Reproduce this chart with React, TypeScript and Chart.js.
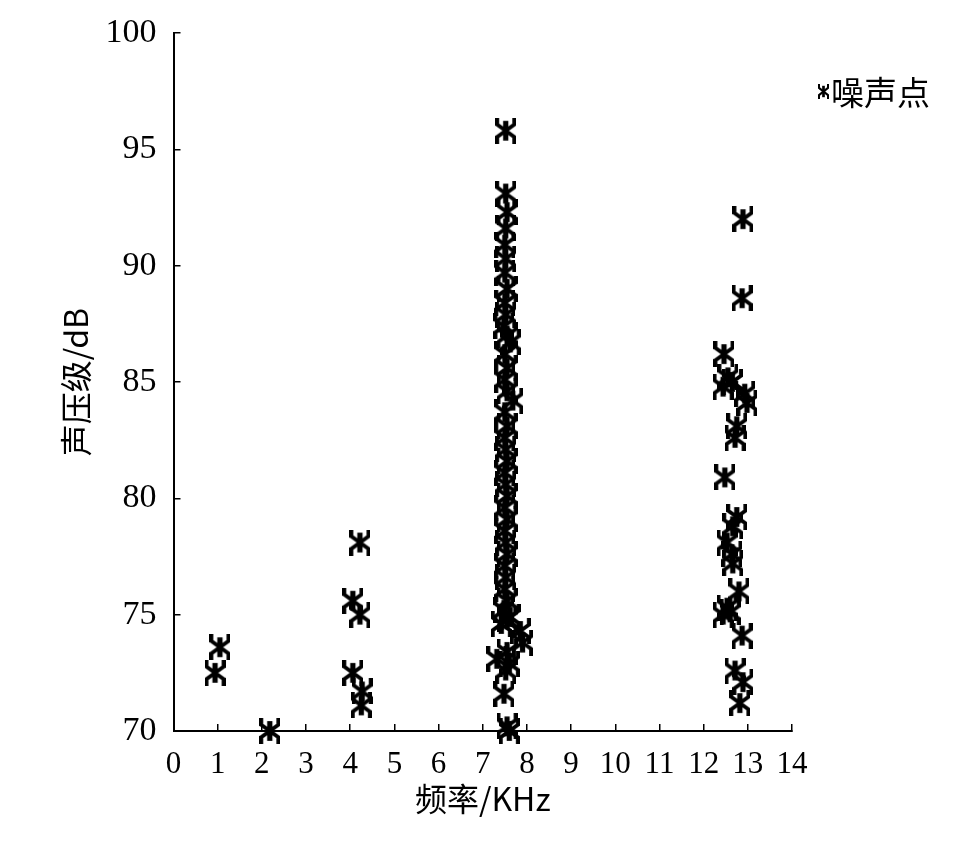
import React, { useEffect, useRef } from "react";
import { Chart, registerables } from "chart.js";

Chart.register(...registerables);

// ---- data ----
const seriesLabel = "噪声点";
const xTitle = "频率/KHz";
const yTitle = "声压级/dB";
const xTickValues = [0, 1, 2, 3, 4, 5, 6, 7, 8, 9, 10, 11, 12, 13, 14];
const yTickValues = [70, 75, 80, 85, 90, 95, 100];

const frequencyKHz = [
  1.05, 0.94,
  2.18,
  4.22, 4.06, 4.22, 4.06, 4.27, 4.25,
  7.52, 7.52, 7.55, 7.52, 7.5, 7.52, 7.5, 7.55, 7.5, 7.52, 7.48, 7.55, 7.62, 7.5, 7.55, 7.5,
  7.55, 7.68, 7.5, 7.55, 7.5, 7.52, 7.55, 7.5, 7.52, 7.55, 7.5, 7.55, 7.5, 7.52, 7.55, 7.5,
  7.52, 7.5, 7.55, 7.48, 7.55, 7.42, 7.62, 7.85, 7.9, 7.32, 7.55, 7.6, 7.52, 7.48, 7.55, 7.6,
  12.89, 12.87, 12.46, 12.55, 12.44, 12.65, 12.93, 12.98, 12.75, 12.71, 12.48, 12.75,
  12.66, 12.53, 12.64, 12.66, 12.8, 12.53, 12.44, 12.6, 12.87, 12.71, 12.89, 12.82,
];

const levelDb = [
  73.6, 72.5,
  70.0,
  78.1, 75.6, 75.0, 72.5, 71.7, 71.1,
  95.8, 93.1, 92.3, 91.6, 90.9, 90.3, 89.7, 89.0, 88.4, 87.9, 87.4, 87.0, 86.7, 86.2, 85.6, 85.1,
  84.6, 84.2, 83.7, 83.1, 82.6, 82.1, 81.6, 81.1, 80.6, 80.1, 79.6, 79.1, 78.6, 78.1, 77.6, 77.1,
  76.6, 76.1, 75.6, 75.2, 74.8, 74.6, 74.9, 74.3, 73.8, 73.1, 73.4, 72.9, 72.6, 71.6, 70.2, 70.0,
  92.0, 88.6, 86.2, 85.2, 84.8, 85.0, 84.5, 84.1, 83.1, 82.6, 80.9, 79.2,
  78.8, 78.1, 77.6, 77.2, 76.0, 75.3, 75.0, 75.1, 74.1, 72.6, 72.1, 71.2,
];

function makeMarker(w: number, h: number, lw: number): HTMLCanvasElement {
  const c = document.createElement("canvas");
  c.width = w;
  c.height = h;
  const g = c.getContext("2d") as CanvasRenderingContext2D;
  g.strokeStyle = "#000";
  g.lineCap = "butt";
  g.lineJoin = "miter";
  const cx = w / 2;
  const l = lw / 2;
  const r = w - lw / 2;
  const t = h * 0.26;
  const b = h * 0.74;
  // thick vertical body
  g.lineWidth = lw * 1.35;
  g.beginPath();
  g.moveTo(cx, h * 0.12);
  g.lineTo(cx, h * 0.88);
  g.stroke();
  // bent arms
  g.lineWidth = lw;
  g.beginPath();
  g.moveTo(l, 0);
  g.lineTo(l, t);
  g.lineTo(r, b);
  g.lineTo(r, h);
  g.moveTo(r, 0);
  g.lineTo(r, t);
  g.lineTo(l, b);
  g.lineTo(l, h);
  g.stroke();
  return c;
}

export default function App() {
  const canvasRef = useRef<HTMLCanvasElement | null>(null);

  useEffect(() => {
    const canvas = canvasRef.current;
    if (!canvas) return;
    const marker = makeMarker(21, 26, 3.9);
    const legendMarker = makeMarker(11, 15, 2);

    const legendPlugin = {
      id: "cornerLegend",
      afterDraw(chart: any) {
        const ctx = chart.ctx as CanvasRenderingContext2D;
        const area = chart.chartArea;
        ctx.save();
        const x = area.right + 26;
        const y = area.top + 58;
        ctx.drawImage(legendMarker, x, y - 7);
        ctx.font = '33px "Noto Sans CJK SC"';
        ctx.fillStyle = "#000";
        ctx.textBaseline = "middle";
        ctx.textAlign = "left";
        ctx.fillText(chart.data.datasets[0].label, x + 13, y + 1);
        ctx.restore();
      },
    };

    const zeroPad = (s: any) => {
      s.paddingTop = 0;
      s.paddingBottom = 0;
      s.paddingLeft = 0;
      s.paddingRight = 0;
    };

    const chart = new Chart(canvas, {
      type: "scatter",
      data: {
        datasets: [
          {
            label: seriesLabel,
            data: frequencyKHz.map((x, i) => ({ x, y: levelDb[i] })),
            pointStyle: marker as any,
            pointRadius: 10,
            clip: false as any,
            backgroundColor: "#000",
            borderColor: "#000",
          },
        ],
      },
      plugins: [legendPlugin],
      options: {
        animation: false,
        responsive: false,
        devicePixelRatio: 1,
        layout: { padding: { left: 0, top: 33, right: 171, bottom: 0 } },
        plugins: {
          legend: { display: false },
          tooltip: { enabled: false },
        },
        scales: {
          x: {
            type: "linear",
            min: 0,
            max: 14,
            afterFit: (s: any) => {
              s.height = 120;
              zeroPad(s);
            },
            afterBuildTicks: (s: any) => {
              s.ticks = xTickValues.map((v) => ({ value: v }));
            },
            border: { display: true, color: "#000", width: 2 },
            grid: {
              drawOnChartArea: false,
              drawTicks: true,
              tickLength: -7,
              color: "#000",
              lineWidth: 1.5,
            },
            ticks: {
              color: "#000",
              padding: 22,
              maxRotation: 0,
              autoSkip: false,
              font: { family: '"Liberation Serif"', size: 31 },
            },
            title: {
              display: true,
              text: xTitle,
              color: "#000",
              font: { family: '"Noto Sans CJK SC"', size: 32 },
              padding: { top: 0, bottom: 33 },
            },
          },
          y: {
            type: "linear",
            min: 70,
            max: 100,
            afterFit: (s: any) => {
              s.width = 173.5;
              zeroPad(s);
            },
            afterBuildTicks: (s: any) => {
              s.ticks = yTickValues.map((v) => ({ value: v }));
            },
            border: { display: true, color: "#000", width: 2 },
            grid: {
              drawOnChartArea: false,
              drawTicks: true,
              tickLength: -7,
              color: "#000",
              lineWidth: 1.5,
            },
            ticks: {
              color: "#000",
              padding: 24,
              autoSkip: false,
              font: { family: '"Liberation Serif"', size: 34 },
            },
            title: {
              display: true,
              text: yTitle,
              color: "#000",
              font: { family: '"Noto Sans CJK SC"', size: 32 },
              padding: { top: 57, bottom: 0 },
            },
          },
        },
      },
    });

    return () => {
      chart.destroy();
    };
  }, []);

  return (
    <div
      style={{
        position: "fixed",
        left: 0,
        top: 0,
        width: 963,
        height: 851,
        background: "#fff",
      }}
    >
      <canvas ref={canvasRef} width={963} height={851} style={{ display: "block" }} />
    </div>
  );
}
